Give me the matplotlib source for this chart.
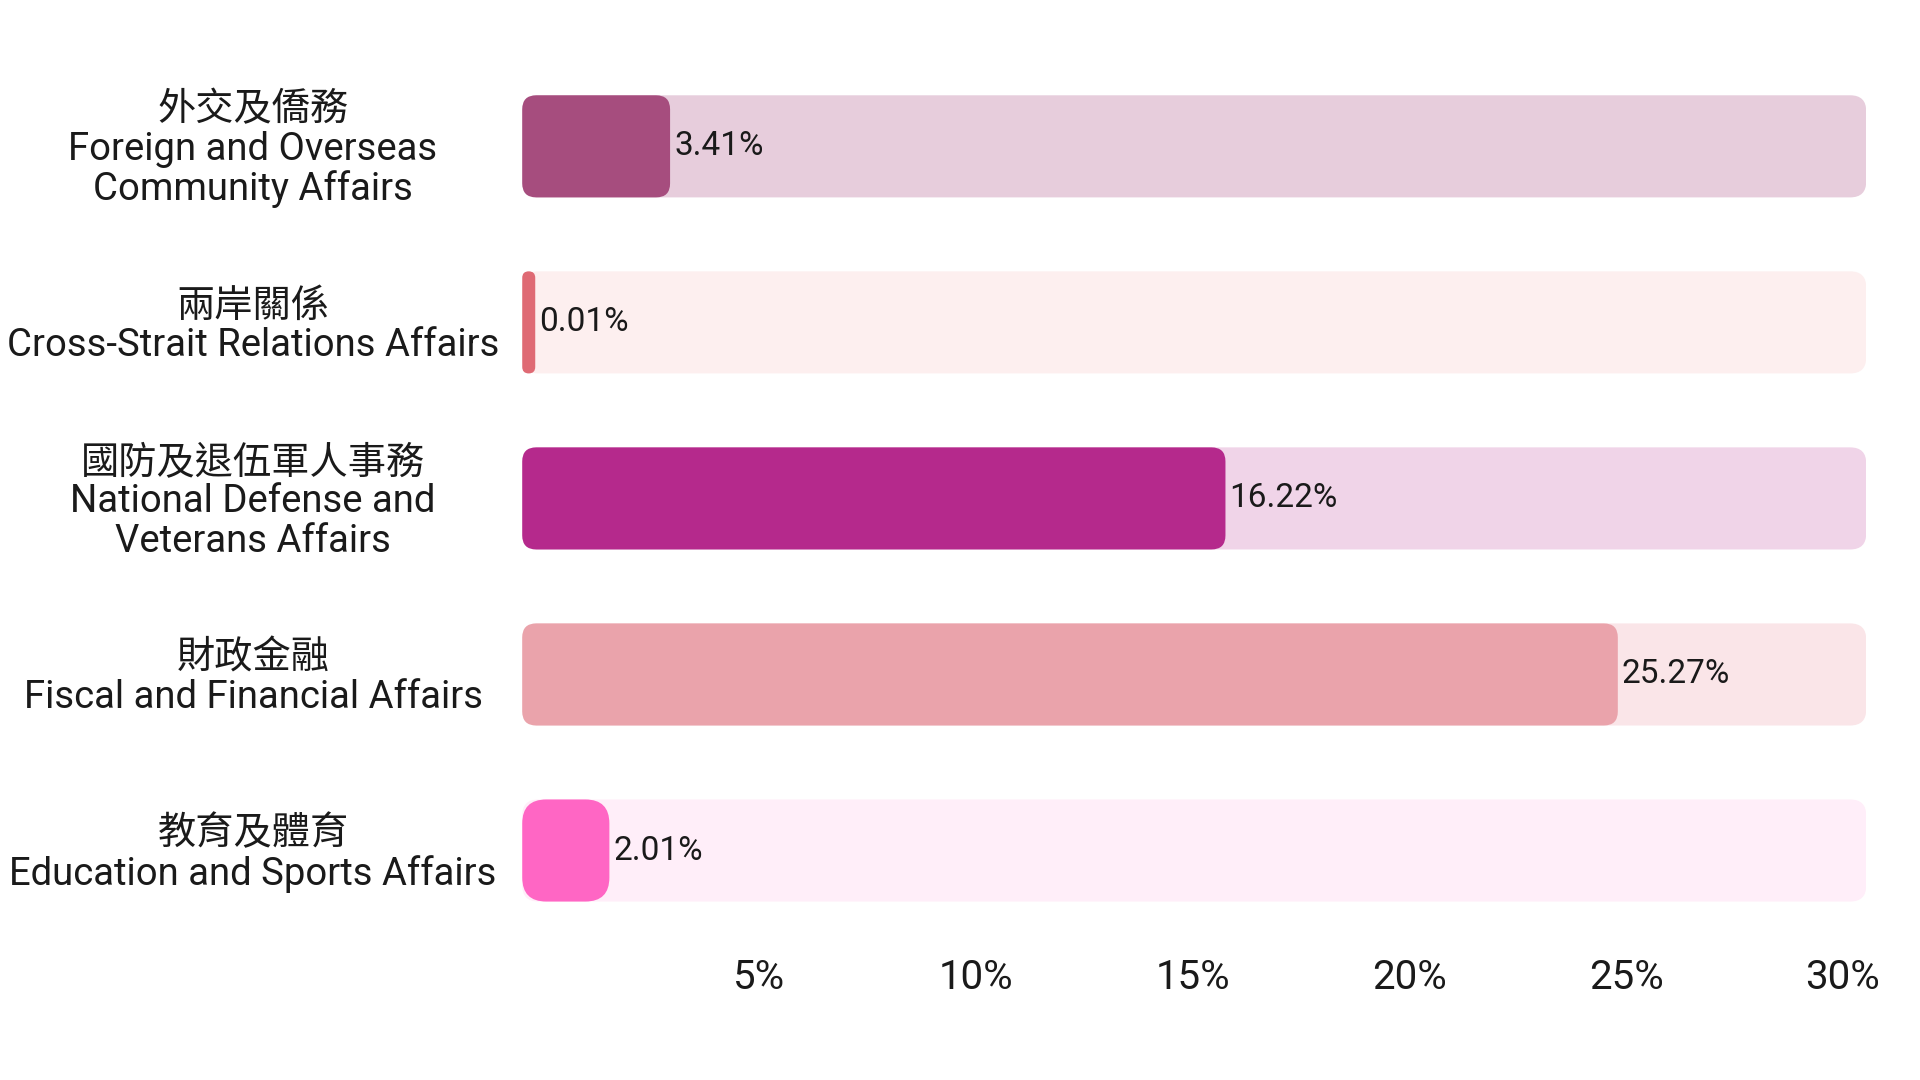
import matplotlib.pyplot as plt
from matplotlib.patches import FancyBboxPatch
from matplotlib import transforms

categories = [
    "外交及僑務\nForeign and Overseas\nCommunity Affairs",
    "兩岸關係\nCross-Strait Relations Affairs",
    "國防及退伍軍人事務\nNational Defense and\nVeterans Affairs",
    "財政金融\nFiscal and Financial Affairs",
    "教育及體育\nEducation and Sports Affairs",
]
values = [3.41, 0.01, 16.22, 25.27, 2.01]
bar_colors = ["#A64D7E", "#DF6A74", "#B5298C", "#EAA3AB", "#FF66C4"]
track_colors = ["#E7CDDC", "#FDEFEF", "#F0D4E8", "#FAE5E8", "#FFEEF9"]
ticks = [5, 10, 15, 20, 25, 30]
tick_labels = ["5%", "10%", "15%", "20%", "25%", "30%"]

plt.rcParams['font.family'] = ['Roboto', 'Noto Sans CJK TC', 'DejaVu Sans']

W, H, DPI = 19.2, 10.8, 100
fig = plt.figure(figsize=(W, H), dpi=DPI)
pos = [0.272, 0.131, 0.700, 0.815]
ax = fig.add_axes(pos)

xmax = 31.0
n = len(values)
ax.set_xlim(0, xmax)
ax.set_ylim(n - 0.5, -0.5)

# pixels per data unit, used to keep the corners circular
px_x = pos[2] * W * DPI / xmax
px_y = pos[3] * H * DPI / n
aspect = px_x / px_y
h = 0.58

for i, (v, c, tc) in enumerate(zip(values, bar_colors, track_colors)):
    track = FancyBboxPatch((0, i - h / 2), xmax, h,
                           boxstyle="round,pad=0,rounding_size=%f" % (16 / px_x),
                           mutation_aspect=aspect, fc=tc, ec='none')
    ax.add_patch(track)

    w = max(v, 13 / px_x)
    wpx = w * px_x
    # short bars get rounder ends
    rpx = min(wpx / 2, 24) if wpx < 100 else 14
    bar = FancyBboxPatch((0, i - h / 2), w, h,
                         boxstyle="round,pad=0,rounding_size=%f" % (rpx / px_x),
                         mutation_aspect=aspect, fc=c, ec='none')
    ax.add_patch(bar)

    ax.annotate("%.2f%%" % v, xy=(w, i), xytext=(3, 0), textcoords='offset points',
                ha='left', va='center', fontsize=24, color='#1a1a1a')

lab_tr = transforms.blended_transform_factory(fig.transFigure, ax.transData)
for i, lab in enumerate(categories):
    ax.text(0.1318, i + 0.02, lab, transform=lab_tr, ha='center', va='center',
            multialignment='center', fontsize=27.5, linespacing=1.08, color='#1a1a1a')

ax.set_xticks(ticks, tick_labels)
ax.tick_params(axis='x', length=0, pad=14, labelsize=29, labelcolor='#1a1a1a')
ax.set_yticks([])
for s in ax.spines.values():
    s.set_visible(False)

shift = transforms.ScaledTranslation(0.2, 0, fig.dpi_scale_trans)
for lbl in ax.get_xticklabels():
    lbl.set_transform(lbl.get_transform() + shift)

fig.savefig("out.png", dpi=DPI)
